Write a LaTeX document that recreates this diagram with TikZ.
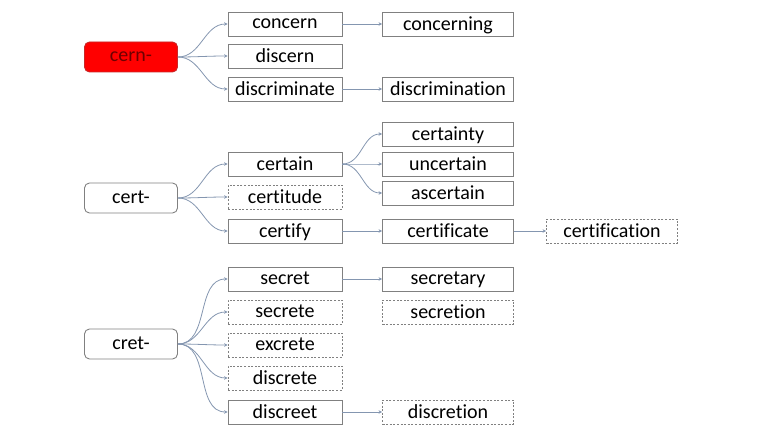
\documentclass[tikz,border=0pt]{standalone}
\usepackage{fontspec}
\setmainfont{Carlito}[Ligatures={NoCommon}]
\usetikzlibrary{arrows.meta,positioning}
\definecolor{linkblue}{RGB}{132,150,176}
\definecolor{boxgray}{RGB}{128,128,128}
\definecolor{rootred}{RGB}{255,0,0}
\definecolor{rootedge}{RGB}{200,40,40}
\definecolor{roottext}{RGB}{110,0,0}

\begin{document}
\begin{tikzpicture}[x=1pt, y=-1pt,
  word/.style={draw=boxgray, line width=0.9pt, minimum width=114pt,
    minimum height=24pt, inner sep=0pt, text depth=1pt,
    font=\fontsize{20}{22}\selectfont},
  wide/.style={word, minimum width=131pt},
  rare/.style={dash pattern=on 2pt off 1.6pt},
  root/.style={draw=boxgray, line width=0.9pt, rounded corners=5pt,
    minimum width=93pt, minimum height=30pt, inner sep=0pt, text depth=1pt,
    font=\fontsize{20}{22}\selectfont},
  link/.style={-{Stealth[length=3.5pt,width=3.5pt]}, linkblue, line width=0.8pt}
]
  \useasboundingbox (0,0) rectangle (773,435);

  % cern-
  \node[root, fill=rootred, draw=rootedge, text=roottext] (cern) at (131,57) {cern-};
  \node[word] (concern)      at (285,24)  {concern};
  \node[word] (discern)      at (285,56)  {discern};
  \node[word] (discriminate) at (285,89)  {discriminate};
  \node[wide] (concerning)     at (448,24) {concerning};
  \node[wide] (discrimination) at (448,89) {discrimination};

  % cert-
  \node[root] (cert) at (131,198) {cert-};
  \node[word]       (certain)   at (285,164) {certain};
  \node[word, rare] (certitude) at (285,197) {certitude};
  \node[word]       (certify)   at (285,231) {certify};
  \node[wide] (certainty)   at (448,134) {certainty};
  \node[wide] (uncertain)   at (448,164) {uncertain};
  \node[wide] (ascertain)   at (448,193) {ascertain};
  \node[wide] (certificate) at (448,231) {certificate};
  \node[wide, rare] (certification) at (612,231) {certification};

  % cret-
  \node[root] (cret) at (131,344) {cret-};
  \node[word]       (secret)   at (285,279) {secret};
  \node[word, rare] (secrete)  at (285,312) {secrete};
  \node[word, rare] (excrete)  at (285,345) {excrete};
  \node[word, rare] (discrete) at (285,378) {discrete};
  \node[word]       (discreet) at (285,412) {discreet};
  \node[wide]       (secretary)  at (448,279) {secretary};
  \node[wide, rare] (secretion)  at (448,312) {secretion};
  \node[wide, rare] (discretion) at (448,412) {discretion};

  % Branches
  \foreach \r/\w in {cern/concern, cern/discern, cern/discriminate,
      cert/certain, cert/certitude, cert/certify,
      cret/secret, cret/secrete, cret/excrete, cret/discrete, cret/discreet,
      certain/certainty, certain/uncertain, certain/ascertain}
    \draw[link] (\r.east) to[out=0, in=180] (\w.west);

  % Derived words
  \foreach \a/\b in {concern/concerning, discriminate/discrimination,
      certify/certificate, certificate/certification,
      secret/secretary, discreet/discretion}
    \draw[link] (\a) -- (\b);
\end{tikzpicture}
\end{document}
